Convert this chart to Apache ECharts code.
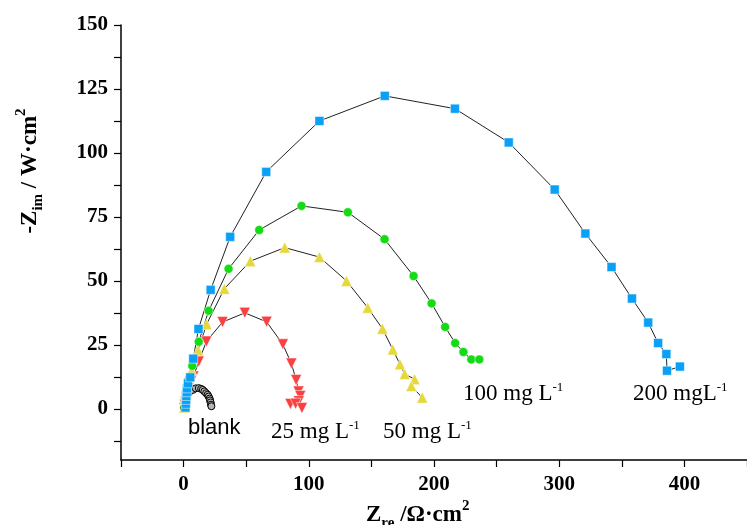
<!DOCTYPE html>
<html>
<head>
<meta charset="utf-8">
<script src="https://cdn.jsdelivr.net/npm/echarts@6/dist/echarts.min.js"></script>
<style>
  html, body { margin: 0; padding: 0; background: #fff; }
  #main { width: 747px; height: 525px; }
</style>
</head>
<body>
<div id="main"></div>
<script>
// Nyquist data, [Zre, -Zim] in ohm.cm2
var blankData = [[0.5,0.5],[1,2],[2.0,3.5],[3.2,5.5],[5.1,6.9],[7.4,7.4],[9.7,8.0],[12.1,8.1],[14.0,7.8],[15.3,7.4],[16.6,6.8],[18.0,6.1],[19.2,5.5],[20.0,4.8],[20.8,4.0],[21.1,3.3],[21.6,2.5],[21.9,1.6],[22.2,1.0]];
var mg25Data = [[0.5,0.3],[1,1.5],[1.5,3],[2.5,5],[4,8],[7.9,12.6],[12.1,18.5],[18.2,26.3],[31.1,33.9],[48.9,37.5],[66.3,34.0],[79.3,25.2],[86.1,17.7],[89.9,11.3],[91.8,6.8],[93.2,5.0],[92,3],[85.3,1.9],[89.5,2],[94.5,0.3]];
var mg50Data = [[0.5,0.5],[1,2],[1.5,4],[2.5,7],[4,10],[6.5,15],[11.6,22.9],[18.4,33.1],[32.5,46.9],[53.3,57.7],[80.8,63.0],[108.5,59.3],[130.1,50.0],[147.1,39.5],[158.8,31.3],[167.1,23.2],[172.8,17.4],[176.6,13.6],[184.5,11.6],[181.9,8.9],[190.6,4.4]];
var mg100Data = [[0.5,0.5],[1,2],[1.2,4],[1.8,6],[2.5,8.5],[4.2,11.6],[6.9,16.8],[12.1,26.2],[20.0,38.3],[35.9,54.7],[60.4,69.9],[94.2,79.3],[131.2,76.8],[160.5,66.3],[183.7,51.9],[198.1,41.2],[208.9,32.0],[216.9,25.7],[223.5,22.2],[229.8,19.3],[236.2,19.3]];
var mg200Data = [[1.5,0.5],[1.8,2],[2,3.5],[2.2,5],[2.5,6.5],[2.8,8],[3.5,10],[5.3,12.3],[7.7,19.6],[11.9,31.2],[21.6,46.5],[37.2,67.2],[66.0,92.6],[108.5,112.5],[160.7,122.3],[216.7,117.3],[259.7,104.1],[296.4,85.7],[320.9,68.5],[341.8,55.4],[358.1,43.1],[371.1,33.7],[379.0,25.7],[385.6,21.4],[386.1,14.9],[396.4,16.5]];

// ticks
var xTicks = [-50, 0, 50, 100, 150, 200, 250, 300, 350, 400, 450];
var xLabels = [0, 100, 200, 300, 400];
var yTicks = [-12.5, 0, 12.5, 25, 37.5, 50, 62.5, 75, 87.5, 100, 112.5, 125, 137.5, 150];
var yLabels = [0, 25, 50, 75, 100, 125, 150];

var serif = '"Liberation Serif", "Times New Roman", serif';
var chart = echarts.init(document.getElementById('main'));

function lineSeries(name, data, symbol, size, color, rotate) {
  return {
    name: name,
    type: 'line',
    data: data,
    symbol: symbol,
    symbolSize: size,
    symbolRotate: rotate || 0,
    showAllSymbol: true,
    animation: false,
    lineStyle: { color: '#222', width: 1 },
    itemStyle: { color: color, borderColor: '#fff', borderWidth: 0.5 }
  };
}

// rich styles for sub/superscripts
var rich = {
  a: { fontFamily: serif, fontSize: 23, color: '#000', lineHeight: 26 },
  s: { fontFamily: serif, fontSize: 13, color: '#000', lineHeight: 12, verticalAlign: 'top' }
};
var richBold = {
  a: { fontFamily: serif, fontSize: 23, fontWeight: 'bold', color: '#000', lineHeight: 32 },
  sub: { fontFamily: serif, fontSize: 15, fontWeight: 'bold', color: '#000', lineHeight: 14, verticalAlign: 'bottom' },
  sup: { fontFamily: serif, fontSize: 15, fontWeight: 'bold', color: '#000', lineHeight: 14, verticalAlign: 'top' }
};

function label(x, y, text, r) {
  return {
    type: 'text', x: x, y: y, silent: true,
    style: { text: text, rich: r || rich, verticalAlign: 'middle', align: 'left' }
  };
}

var option = {
  backgroundColor: '#fff',
  animation: false,
  grid: { left: 121, right: -5, top: 25, bottom: 65 },
  xAxis: {
    type: 'value', min: -50, max: 450,
    axisLine: { onZero: false, lineStyle: { color: '#000', width: 1.5 } },
    axisTick: { length: 7, lineStyle: { color: '#000', width: 1.2 }, customValues: xTicks },
    axisLabel: { customValues: xLabels, margin: 14, color: '#000', fontFamily: serif, fontWeight: 'bold', fontSize: 21 },
    splitLine: { show: false }
  },
  yAxis: {
    type: 'value', min: -20, max: 150,
    axisLine: { onZero: false, lineStyle: { color: '#000', width: 1.5 } },
    axisTick: { length: 7, lineStyle: { color: '#000', width: 1.2 }, customValues: yTicks },
    axisLabel: { customValues: yLabels, margin: 13, color: '#000', fontFamily: serif, fontWeight: 'bold', fontSize: 21 },
    splitLine: { show: false }
  },
  series: [
    lineSeries('25 mg/L', mg25Data, 'triangle', 11, '#fa4040', 180),
    lineSeries('50 mg/L', mg50Data, 'triangle', 11, '#e6d83a'),
    lineSeries('100 mg/L', mg100Data, 'circle', 9, '#14dc14'),
    {
      name: 'blank', type: 'line', data: blankData, symbol: 'circle', symbolSize: 7,
      showAllSymbol: true, animation: false,
      lineStyle: { color: '#222', width: 1 },
      itemStyle: { color: '#b4b4b4', borderColor: '#000', borderWidth: 1 }
    },
    lineSeries('200 mg/L', mg200Data, 'rect', 9, '#0aa0f5')
  ],
  graphic: [
    {
      type: 'text', x: 188, y: 428, silent: true,
      style: { text: 'blank', font: '22px "Liberation Sans", Arial, sans-serif', fill: '#000', verticalAlign: 'middle' }
    },
    label(271, 432, '{a|25 mg L}{s|-1}'),
    label(383, 432, '{a|50 mg L}{s|-1}'),
    label(463, 394, '{a|100 mg L}{s|-1}'),
    label(633, 394, '{a|200 mgL}{s|-1}'),
    // axis titles
    label(366, 515, '{a|Z}{sub|re}{a| /\u03a9\u00b7cm}{sup|2}', richBold),
    {
      type: 'text', x: 30, y: 171, rotation: Math.PI / 2, silent: true,
      style: { text: '{a|-Z}{sub|im}{a| / W\u00b7cm}{sup|2}', rich: richBold, align: 'center', verticalAlign: 'middle' }
    }
  ]
};
chart.setOption(option);
</script>
</body>
</html>
